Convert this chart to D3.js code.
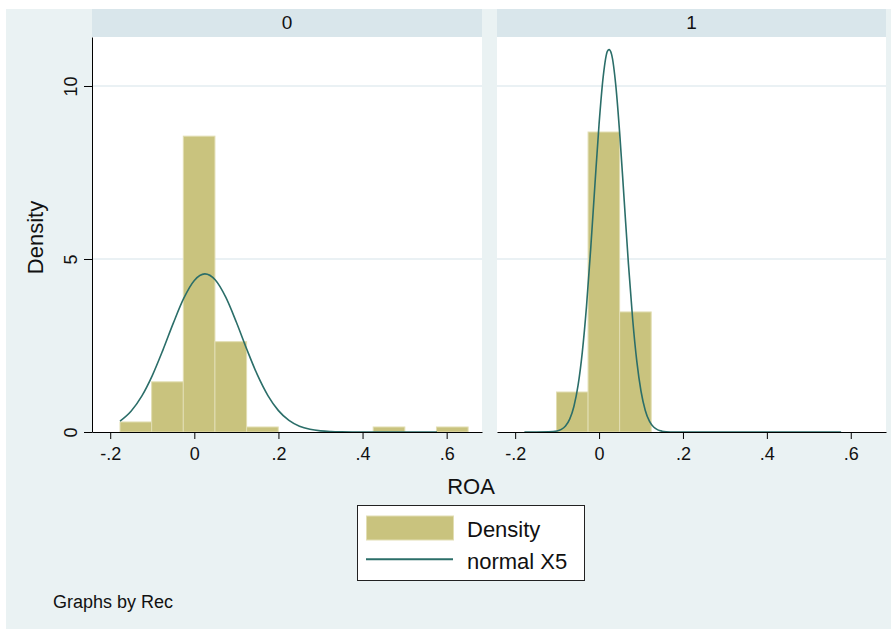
<!DOCTYPE html>
<html>
<head>
<meta charset="utf-8">
<script src="https://cdn.jsdelivr.net/npm/d3@7"></script>
<style>
  html, body { margin: 0; padding: 0; background: #ffffff; }
  svg { display: block; }
  text { font-family: "Liberation Sans", Arial, Helvetica, sans-serif; fill: #111; }
</style>
</head>
<body>
<svg id="chart" width="891" height="629"></svg>
<script>
// ---------------- DATA ----------------
const panels = ["0", "1"];
const binEdges = [-0.1767, -0.1015, -0.0262, 0.0490, 0.1243, 0.1995, 0.2748, 0.3500, 0.4253, 0.5005, 0.5757, 0.6510];
const density0 = [0.29, 1.45, 8.55, 2.61, 0.145, 0, 0, 0, 0.145, 0, 0.145];
const density1 = [0, 1.156, 8.67, 3.47, 0, 0, 0, 0, 0, 0, 0];

// normal overlay curves
const normX0 = [-0.1767, -0.15, -0.125, -0.1, -0.075, -0.05, -0.025, 0, 0.025, 0.05, 0.075, 0.1, 0.125, 0.15, 0.175, 0.2, 0.225, 0.25, 0.275, 0.3, 0.325, 0.35, 0.375, 0.4, 0.45, 0.5, 0.577];
const normY0 = [0.313, 0.607, 1.036, 1.630, 2.360, 3.147, 3.868, 4.381, 4.570, 4.392, 3.889, 3.172, 2.384, 1.650, 1.053, 0.618, 0.335, 0.167, 0.077, 0.032, 0.013, 0.005, 0.002, 0.0005, 0, 0, 0];
const normX1 = [-0.178, -0.15, -0.12, -0.1, -0.09, -0.08, -0.07, -0.06, -0.05, -0.04, -0.03, -0.02, -0.01, 0, 0.01, 0.02, 0.0238, 0.03, 0.04, 0.05, 0.06, 0.07, 0.08, 0.09, 0.1, 0.11, 0.12, 0.13, 0.14, 0.15, 0.16, 0.18, 0.25, 0.4, 0.577];
const normY1 = [0, 0, 0.004, 0.030, 0.075, 0.173, 0.371, 0.737, 1.354, 2.303, 3.623, 5.282, 7.124, 8.897, 10.285, 11.008, 11.05, 10.907, 10.004, 8.495, 6.677, 4.859, 3.273, 2.040, 1.178, 0.630, 0.312, 0.143, 0.061, 0.024, 0.009, 0.001, 0, 0, 0];

const xTicks = [-0.2, 0, 0.2, 0.4, 0.6];
const xTickLabels = ["-.2", "0", ".2", ".4", ".6"];
const yTicks = [0, 5, 10];
const yTickLabels = ["0", "5", "10"];
const legendLabels = ["Density", "normal X5"];
const xTitle = "ROA";
const yTitle = "Density";
const note = "Graphs by Rec";

// ---------------- STYLE ----------------
const bg = "#eaf2f3";
const headerFill = "#d9e6eb";
const barFill = "#c9c37e";
const barStroke = "#e2deb3";
const lineColor = "#2b6e69";
const gridColor = "#e3edf0";

const svg = d3.select("#chart");
svg.append("rect").attr("x", 6).attr("y", 9).attr("width", 885).attr("height", 620).attr("fill", bg);

const plotTop = 37, plotBottom = 432, headerTop = 9;
const panelX = [[92, 482], [497, 886]];
const xDomain = [-0.2433, 0.684];
const y = d3.scaleLinear().domain([0, 11.416]).range([plotBottom, plotTop]);

const densities = [density0, density1];
const curves = [[normX0, normY0], [normX1, normY1]];

panels.forEach((p, i) => {
  const [x0, x1] = panelX[i];
  const x = d3.scaleLinear().domain(xDomain).range([x0, x1]);
  const g = svg.append("g");

  // header strip
  g.append("rect").attr("x", x0).attr("y", headerTop).attr("width", x1 - x0).attr("height", plotTop - headerTop).attr("fill", headerFill);
  g.append("text").attr("x", (x0 + x1) / 2).attr("y", 28.5).attr("text-anchor", "middle").style("font-size", "19px").text(p);

  // plot area
  g.append("rect").attr("x", x0).attr("y", plotTop).attr("width", x1 - x0).attr("height", plotBottom - plotTop).attr("fill", "#ffffff");

  // gridlines
  g.selectAll("line.grid").data(yTicks.filter(v => v > 0)).enter().append("line")
    .attr("x1", x0).attr("x2", x1).attr("y1", d => y(d)).attr("y2", d => y(d))
    .attr("stroke", gridColor).attr("stroke-width", 1.5);

  // bars
  const bars = densities[i].map((d, k) => ({ lo: binEdges[k], hi: binEdges[k + 1], d }));
  g.selectAll("rect.bar").data(bars.filter(b => b.d > 0)).enter().append("rect")
    .attr("x", b => x(b.lo)).attr("width", b => x(b.hi) - x(b.lo))
    .attr("y", b => y(b.d)).attr("height", b => y(0) - y(b.d))
    .attr("fill", barFill).attr("stroke", barStroke).attr("stroke-width", 1);

  // normal curve
  const [cx, cy] = curves[i];
  const pts = cx.map((v, k) => [v, cy[k]]);
  const line = d3.line().x(d => x(d[0])).y(d => y(d[1])).curve(d3.curveMonotoneX);
  g.append("path").attr("d", line(pts)).attr("fill", "none").attr("stroke", lineColor).attr("stroke-width", 1.6);

  // x axis
  const xAxis = d3.axisBottom(x).tickValues(xTicks).tickSize(7).tickSizeOuter(0)
    .tickFormat((d, k) => xTickLabels[k]);
  const ax = g.append("g").attr("transform", `translate(0,${plotBottom})`).call(xAxis);
  ax.select(".domain").attr("stroke", "#000").attr("stroke-width", 1);
  ax.selectAll(".tick line").attr("stroke", "#000");
  ax.selectAll(".tick text").attr("y", 22).attr("dy", "0.32em").style("font-size", "18px")
    .style("font-family", "'Liberation Sans', Arial, sans-serif").attr("fill", "#111");

  // y axis only on first panel
  if (i === 0) {
    const yAxis = d3.axisLeft(y).tickValues(yTicks).tickSize(8).tickSizeOuter(0)
      .tickFormat((d, k) => yTickLabels[k]);
    const ay = g.append("g").attr("transform", `translate(${x0},0)`).call(yAxis);
    ay.select(".domain").attr("stroke", "#000").attr("stroke-width", 1);
    ay.selectAll(".tick line").attr("stroke", "#000");
    ay.selectAll(".tick text").remove();
    ay.selectAll(".tick").append("text")
      .attr("transform", "translate(-15,0) rotate(-90)")
      .attr("text-anchor", "middle").attr("y", 0)
      .style("font-size", "18px").attr("fill", "#111")
      .text((d, k) => yTickLabels[k]);
  }
});

// axis titles
svg.append("text").attr("x", 471).attr("y", 494).attr("text-anchor", "middle").style("font-size", "22px").text(xTitle);
svg.append("text").attr("transform", "translate(42.5,237.5) rotate(-90)").attr("text-anchor", "middle").style("font-size", "22px").text(yTitle);

// legend
const lg = svg.append("g");
lg.append("rect").attr("x", 357.5).attr("y", 505.5).attr("width", 227).attr("height", 75).attr("fill", "#fff").attr("stroke", "#222").attr("stroke-width", 1);
lg.append("rect").attr("x", 366.5).attr("y", 516).attr("width", 87).attr("height", 24).attr("fill", barFill).attr("stroke", barStroke);
lg.append("line").attr("x1", 366).attr("x2", 453).attr("y1", 559.3).attr("y2", 559.3).attr("stroke", lineColor).attr("stroke-width", 2);
lg.append("text").attr("x", 467).attr("y", 537).style("font-size", "22px").text(legendLabels[0]);
lg.append("text").attr("x", 467).attr("y", 569).style("font-size", "22px").text(legendLabels[1]);

// note
svg.append("text").attr("x", 53).attr("y", 608).style("font-size", "18px").text(note);
</script>
</body>
</html>
